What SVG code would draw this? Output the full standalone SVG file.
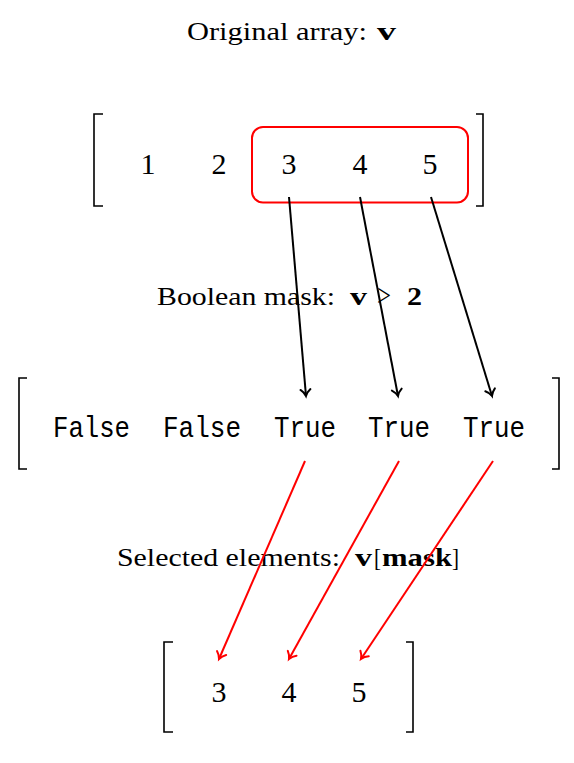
<svg xmlns="http://www.w3.org/2000/svg" width="574" height="763" viewBox="0 0 574 763">
<style>
.lbl{font-family:"Liberation Serif","DejaVu Serif",serif;font-size:25px;fill:#000}
.b{font-weight:bold}
.num{font-family:"Liberation Serif","DejaVu Serif",serif;font-size:30px;fill:#000;text-anchor:middle}
.tt{font-family:"Liberation Mono","DejaVu Sans Mono",monospace;font-size:30px;fill:#000}
.brk{fill:none;stroke:#000;stroke-width:1.6}
.ab{fill:none;stroke:#000;stroke-width:2}
.ar{fill:none;stroke:#f00;stroke-width:2}
</style>
<defs>
<marker id="hb" markerUnits="userSpaceOnUse" markerWidth="16" markerHeight="16" viewBox="-8 -8 16 16" refX="0" refY="0" orient="auto">
<path d="M-6.5,-5 C-4.2,-2 -1.8,-0.7 0,0 C-1.8,0.7 -4.2,2 -6.5,5" fill="none" stroke="#000" stroke-width="2" stroke-linecap="round"/>
</marker>
<marker id="hr" markerUnits="userSpaceOnUse" markerWidth="16" markerHeight="16" viewBox="-8 -8 16 16" refX="0" refY="0" orient="auto">
<path d="M-6.5,-5 C-4.2,-2 -1.8,-0.7 0,0 C-1.8,0.7 -4.2,2 -6.5,5" fill="none" stroke="#f00" stroke-width="2" stroke-linecap="round"/>
</marker>
</defs>
<rect width="574" height="763" fill="#fff"/>

<g id="title">
<text class="lbl" x="187" y="40" textLength="180" lengthAdjust="spacingAndGlyphs">Original array:</text>
<text class="lbl b" x="377" y="40" textLength="19" lengthAdjust="spacingAndGlyphs">v</text>
</g>

<g id="original-array">
<path class="brk" d="M103,114 H94 V206 H103"/>
<path class="brk" d="M476,114 H483 V206 H476"/>
<text class="num" x="148" y="174">1</text>
<text class="num" x="219" y="174">2</text>
<text class="num" x="289" y="174">3</text>
<text class="num" x="360" y="174">4</text>
<text class="num" x="430" y="174">5</text>
</g>

<g id="highlight">
<rect x="252" y="127" width="216" height="75.5" rx="11" ry="11" fill="none" stroke="#f00" stroke-width="2"/>
</g>

<g id="mask-label">
<text class="lbl" x="157" y="305" textLength="178" lengthAdjust="spacingAndGlyphs">Boolean mask:</text>
<text class="lbl b" x="350" y="305" textLength="17" lengthAdjust="spacingAndGlyphs">v</text>
<text class="lbl" x="377" y="306" style="font-size:32px" textLength="14" lengthAdjust="spacingAndGlyphs">&gt;</text>
<text class="lbl b" x="407" y="305" textLength="15" lengthAdjust="spacingAndGlyphs">2</text>
</g>

<g id="mask-array">
<path class="brk" d="M27,378 H19 V469 H27"/>
<path class="brk" d="M552,378 H559 V469 H552"/>
<text class="tt" x="53" y="437" textLength="77" lengthAdjust="spacingAndGlyphs">False</text>
<text class="tt" x="163" y="437" textLength="78" lengthAdjust="spacingAndGlyphs">False</text>
<text class="tt" x="274" y="437" textLength="62" lengthAdjust="spacingAndGlyphs">True</text>
<text class="tt" x="368" y="437" textLength="62" lengthAdjust="spacingAndGlyphs">True</text>
<text class="tt" x="463" y="437" textLength="62" lengthAdjust="spacingAndGlyphs">True</text>
</g>

<g id="selected-label">
<text class="lbl" x="117" y="566" textLength="223" lengthAdjust="spacingAndGlyphs">Selected elements:</text>
<text class="lbl b" x="355" y="566" textLength="17" lengthAdjust="spacingAndGlyphs">v</text>
<text class="lbl" x="374" y="566" textLength="7" lengthAdjust="spacingAndGlyphs">[</text>
<text class="lbl b" x="382" y="566" textLength="70" lengthAdjust="spacingAndGlyphs">mask</text>
<text class="lbl" x="452" y="566" textLength="7" lengthAdjust="spacingAndGlyphs">]</text>
</g>

<g id="selected-array">
<path class="brk" d="M173,642 H164 V732 H173"/>
<path class="brk" d="M406,642 H413 V732 H406"/>
<text class="num" x="219" y="702">3</text>
<text class="num" x="289" y="702">4</text>
<text class="num" x="359" y="702">5</text>
</g>

<g id="connectors">
<line class="ab" x1="289" y1="197" x2="306" y2="396" marker-end="url(#hb)"/>
<line class="ab" x1="360" y1="197" x2="398" y2="396" marker-end="url(#hb)"/>
<line class="ab" x1="431" y1="197" x2="492" y2="396" marker-end="url(#hb)"/>
<line class="ar" x1="305" y1="461" x2="219" y2="659" marker-end="url(#hr)"/>
<line class="ar" x1="399" y1="461" x2="289" y2="659" marker-end="url(#hr)"/>
<line class="ar" x1="493" y1="461" x2="361" y2="659" marker-end="url(#hr)"/>
</g>
</svg>
